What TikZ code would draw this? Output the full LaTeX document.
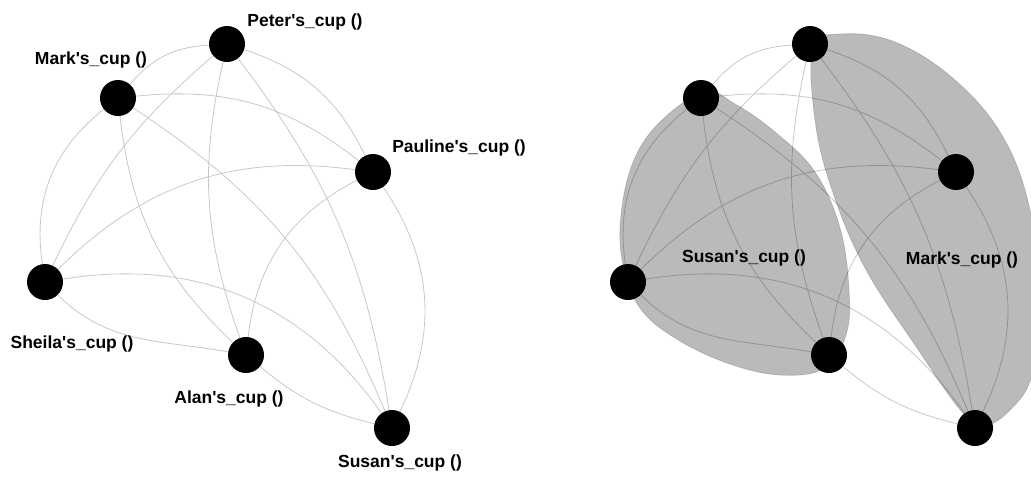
\documentclass[tikz,border=0pt]{standalone}
\usepackage{fontspec}
\newfontfamily\cuplabelfont{Liberation Sans}
\definecolor{edgegray}{RGB}{200,200,200}
\tikzset{
  cup/.style={circle, fill=black, minimum size=36pt, inner sep=0pt},
  edge/.style={draw=edgegray, line width=0.8pt},
  cuplabel/.style={anchor=base, inner sep=0pt, text=black,
    font=\cuplabelfont\bfseries\fontsize{17.5}{20}\selectfont},
  hull/.style={fill=black, fill opacity=0.27, draw=black, draw opacity=0.15, line width=0.8pt}
}
% all fifteen cup-to-cup edges of one drawing, nodes named with prefix #1
\newcommand\cupedges[1]{%
  \draw[edge] (#1mark) to[bend left=23] (#1peter);
  \draw[edge] (#1peter) to[bend left=23] (#1pauline);
  \draw[edge] (#1peter) to[bend right=12] (#1sheila);
  \draw[edge] (#1peter) to[bend right=16] (#1alan);
  \draw[edge] (#1peter) to[bend left=14] (#1susan);
  \draw[edge] (#1mark) to[bend left=22] (#1pauline);
  \draw[edge] (#1mark) to[bend right=30] (#1sheila);
  \draw[edge] (#1mark) to[bend right=20] (#1alan);
  \draw[edge] (#1mark) to[bend left=17] (#1susan);
  \draw[edge] (#1pauline) to[bend right=26] (#1sheila);
  \draw[edge] (#1pauline) to[bend right=28] (#1alan);
  \draw[edge] (#1pauline) to[bend left=30] (#1susan);
  \draw[edge] (#1sheila) to[out=-45, in=170] (#1alan);
  \draw[edge] (#1sheila) to[bend left=32] (#1susan);
  \draw[edge] (#1alan) to[bend right=13] (#1susan);
}
\begin{document}
\begin{tikzpicture}[x=1pt, y=1pt]
  \useasboundingbox (0,0) rectangle (1031,-483);
  \clip (0,0) rectangle (1031,-483);

  % left drawing: the six cups
  \node[cup] (Lpeter)   at (227,-44)  {};
  \node[cup] (Lmark)    at (118,-98)  {};
  \node[cup] (Lpauline) at (373,-172) {};
  \node[cup] (Lsheila)  at (45,-282)  {};
  \node[cup] (Lalan)    at (246,-355) {};
  \node[cup] (Lsusan)   at (392,-428) {};
  \cupedges{L}

  \node[cuplabel] (Lpeterlbl)   at (305,-26)  {Peter\textquotesingle s\_cup ()};
  \node[cuplabel] (Lmarklbl)    at (91,-64)   {Mark\textquotesingle s\_cup ()};
  \node[cuplabel] (Lpaulinelbl) at (459,-152) {Pauline\textquotesingle s\_cup ()};
  \node[cuplabel] (Lsheilalbl)  at (72,-348)  {Sheila\textquotesingle s\_cup ()};
  \node[cuplabel] (Lalanlbl)    at (229,-403) {Alan\textquotesingle s\_cup ()};
  \node[cuplabel] (Lsusanlbl)   at (400,-467) {Susan\textquotesingle s\_cup ()};

  % right drawing: same cups, grouped by two hulls
  \node[cup] (Rpeter)   at (810,-44)  {};
  \node[cup] (Rmark)    at (701,-98)  {};
  \node[cup] (Rpauline) at (956,-172) {};
  \node[cup] (Rsheila)  at (628,-282) {};
  \node[cup] (Ralan)    at (829,-355) {};
  \node[cup] (Rsusan)   at (975,-428) {};
  \cupedges{R}

  % hull around Mark, Sheila and Alan
  \path[hull] plot[smooth cycle, tension=0.65] coordinates {
    (705,-92) (662,-120) (634,-160) (621,-215) (623,-265)
    (640,-308) (675,-338) (727,-363) (780,-375)
    (825,-368) (846,-335) (849,-290) (840,-228)
    (815,-172) (775,-132) (735,-104)};
  % hull around Peter, Pauline and Susan
  \path[hull] plot[smooth cycle, tension=0.65] coordinates {
    (813,-48) (840,-34) (895,-42) (955,-80) (1003,-137)
    (1030,-210) (1040,-300) (1032,-375) (1010,-410) (985,-425)
    (962,-412) (915,-345) (865,-268) (832,-190) (815,-120)};

  \node[cuplabel] (Rsusanlbl) at (744,-262) {Susan\textquotesingle s\_cup ()};
  \node[cuplabel] (Rmarklbl)  at (962,-264) {Mark\textquotesingle s\_cup ()};
\end{tikzpicture}
\end{document}
